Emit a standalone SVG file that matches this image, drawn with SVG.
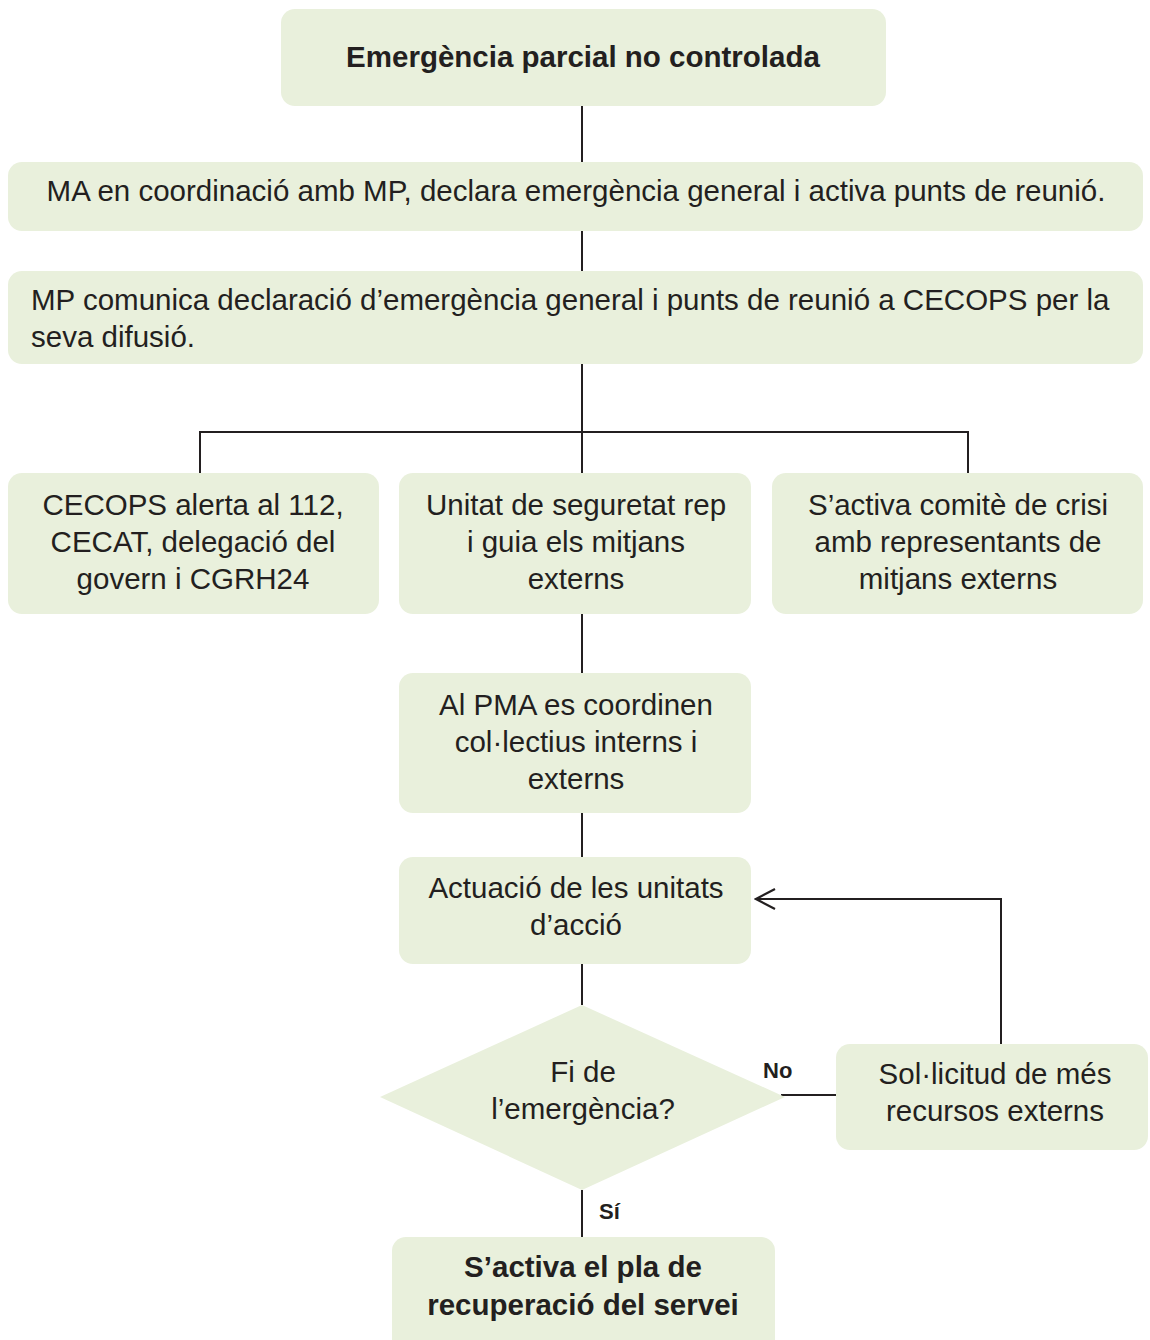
<svg xmlns="http://www.w3.org/2000/svg" width="1150" height="1340" viewBox="0 0 1150 1340">
  <style>
    .box { fill: #e9f0dc; }
    .t { font-family: "Liberation Sans", Arial, sans-serif; font-size: 29.5px; fill: #231f20; text-anchor: middle; }
    .l { text-anchor: start; }
    .b { font-weight: bold; }
    .lbl { font-family: "Liberation Sans", Arial, sans-serif; font-size: 22px; font-weight: bold; fill: #231f20; }
    .ln { stroke: #231f20; stroke-width: 2; fill: none; }
  </style>
  <defs>
    <!-- open chevron arrowhead, tip at the line end -->
    <marker id="open" viewBox="0 0 22 24" refX="20" refY="12" markerWidth="22" markerHeight="24" markerUnits="userSpaceOnUse" orient="auto">
      <path d="M1,2 L20,12 L1,22" fill="none" stroke="#231f20" stroke-width="2.2"/>
    </marker>
  </defs>
  <rect width="1150" height="1340" fill="#ffffff"/>

  <!-- connectors -->
  <g id="connectors">
    <line class="ln" x1="582" y1="106" x2="582" y2="162"/>
    <line class="ln" x1="582" y1="231" x2="582" y2="271"/>
    <line class="ln" x1="582" y1="364" x2="582" y2="473"/>
    <polyline class="ln" points="200,473 200,432 968,432 968,473"/>
    <line class="ln" x1="582" y1="614" x2="582" y2="673"/>
    <line class="ln" x1="582" y1="813" x2="582" y2="857"/>
    <line class="ln" x1="582" y1="964" x2="582" y2="1005"/>
    <line class="ln" x1="582" y1="1190" x2="582" y2="1237"/>
    <line class="ln" x1="781" y1="1095" x2="836" y2="1095"/>
    <polyline class="ln" points="1001,1044 1001,899 756,899" marker-end="url(#open)"/>
    <text class="lbl" x="763" y="1078">No</text>
    <text class="lbl" x="599" y="1219">Sí</text>
  </g>

  <g id="n-start">
    <rect class="box" x="281" y="9" width="605" height="97" rx="14"/>
    <text class="t b" x="583" y="67">Emergència parcial no controlada</text>
  </g>

  <g id="n-declara">
    <rect class="box" x="8" y="162" width="1135" height="69" rx="14"/>
    <text class="t" x="576" y="201">MA en coordinació amb MP, declara emergència general i activa punts de reunió.</text>
  </g>

  <g id="n-comunica">
    <rect class="box" x="8" y="271" width="1135" height="93" rx="14"/>
    <text class="t l" x="31" y="310">MP comunica declaració d’emergència general i punts de reunió a CECOPS per la</text>
    <text class="t l" x="31" y="347">seva difusió.</text>
  </g>

  <g id="n-cecops">
    <rect class="box" x="8" y="473" width="371" height="141" rx="14"/>
    <text class="t" x="193" y="515">CECOPS alerta al 112,</text>
    <text class="t" x="193" y="552">CECAT, delegació del</text>
    <text class="t" x="193" y="589">govern i CGRH24</text>
  </g>

  <g id="n-seguretat">
    <rect class="box" x="399" y="473" width="352" height="141" rx="14"/>
    <text class="t" x="576" y="515">Unitat de seguretat rep</text>
    <text class="t" x="576" y="552">i guia els mitjans</text>
    <text class="t" x="576" y="589">externs</text>
  </g>

  <g id="n-comite">
    <rect class="box" x="772" y="473" width="371" height="141" rx="14"/>
    <text class="t" x="958" y="515">S’activa comitè de crisi</text>
    <text class="t" x="958" y="552">amb representants de</text>
    <text class="t" x="958" y="589">mitjans externs</text>
  </g>

  <g id="n-pma">
    <rect class="box" x="399" y="673" width="352" height="140" rx="14"/>
    <text class="t" x="576" y="715">Al PMA es coordinen</text>
    <text class="t" x="576" y="752">col·lectius interns i</text>
    <text class="t" x="576" y="789">externs</text>
  </g>

  <g id="n-actuacio">
    <rect class="box" x="399" y="857" width="352" height="107" rx="14"/>
    <text class="t" x="576" y="898">Actuació de les unitats</text>
    <text class="t" x="576" y="935">d’acció</text>
  </g>

  <g id="n-fi">
    <polygon class="box" points="582,1005 785,1097 582,1190 380,1097"/>
    <text class="t" x="583" y="1082">Fi de</text>
    <text class="t" x="583" y="1119">l’emergència?</text>
  </g>

  <g id="n-sollicitud">
    <rect class="box" x="836" y="1044" width="312" height="106" rx="14"/>
    <text class="t" x="995" y="1084">Sol·licitud de més</text>
    <text class="t" x="995" y="1121">recursos externs</text>
  </g>

  <g id="n-recuperacio">
    <rect class="box" x="392" y="1237" width="383" height="120" rx="14"/>
    <text class="t b" x="583" y="1277">S’activa el pla de</text>
    <text class="t b" x="583" y="1315">recuperació del servei</text>
  </g>
</svg>
